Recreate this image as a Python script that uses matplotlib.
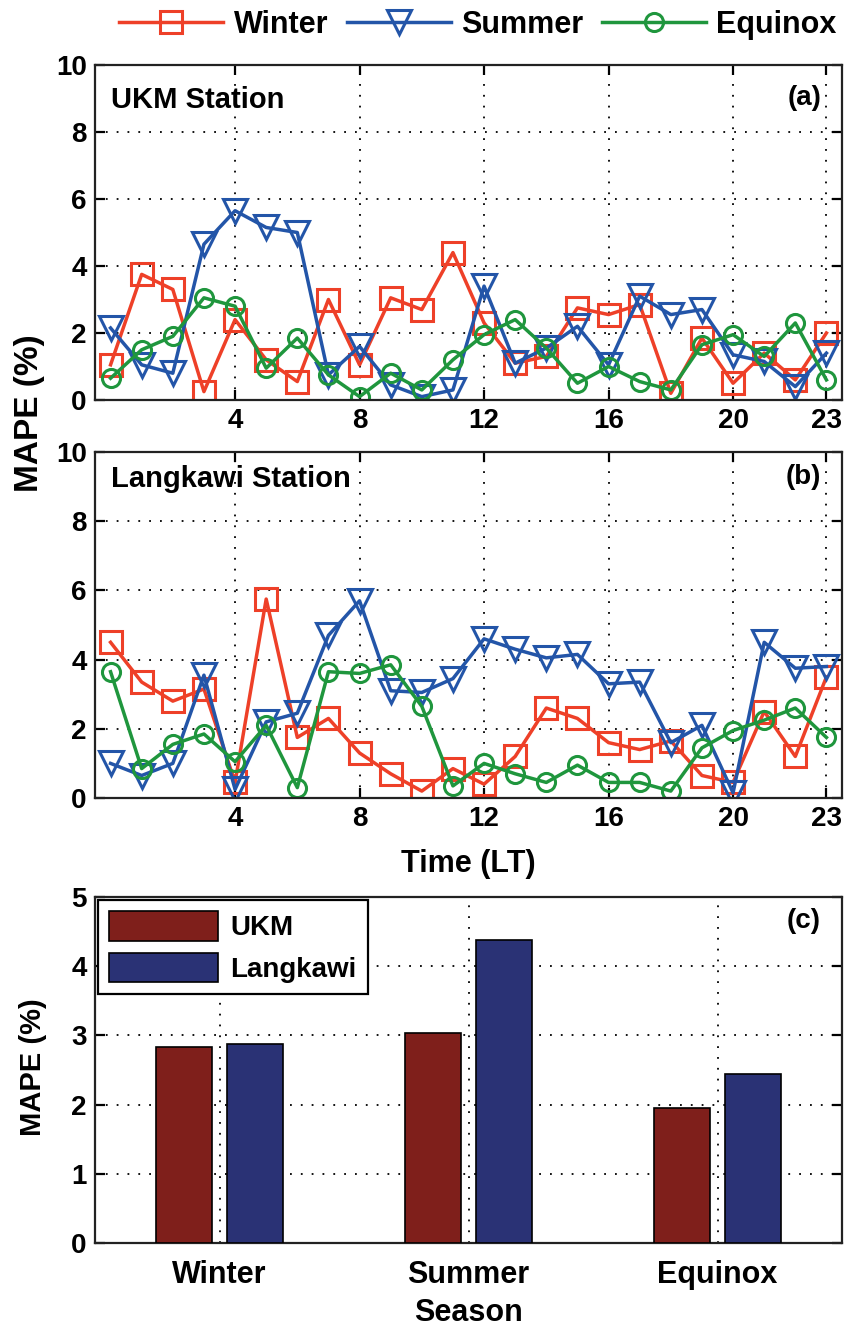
import matplotlib
matplotlib.use("Agg")
import matplotlib.pyplot as plt
from matplotlib import font_manager
import numpy as np

# ---------------- data ----------------
hours = list(range(24))
xticks_time = [4, 8, 12, 16, 20, 23]

ukm_winter = [1.05, 3.75, 3.3, 0.25, 2.4, 1.2, 0.55, 3.0, 1.05, 3.05, 2.7, 4.4,
              2.3, 1.1, 1.3, 2.75, 2.55, 2.85, 0.2, 1.85, 0.5, 1.4, 0.6, 2.0]
ukm_summer = [2.15, 1.05, 0.8, 4.65, 5.65, 5.15, 5.0, 0.75, 1.6, 0.45, 0.1, 0.3,
              3.4, 1.1, 1.55, 2.2, 1.05, 3.1, 2.55, 2.7, 1.35, 1.15, 0.4, 1.4]
ukm_equinox = [0.65, 1.5, 1.9, 3.05, 2.8, 0.95, 1.85, 0.75, 0.1, 0.8, 0.3, 1.2,
               1.95, 2.4, 1.55, 0.5, 1.0, 0.55, 0.3, 1.65, 1.95, 1.3, 2.3, 0.6]

lgk_winter = [4.5, 3.35, 2.8, 3.15, 0.45, 5.75, 1.75, 2.3, 1.3, 0.7, 0.2, 0.85,
              0.4, 1.2, 2.6, 2.3, 1.6, 1.4, 1.65, 0.65, 0.45, 2.5, 1.2, 3.5]
lgk_summer = [1.0, 0.65, 1.0, 3.55, 0.25, 2.2, 2.45, 4.7, 5.7, 3.1, 3.05, 3.45,
              4.6, 4.3, 4.05, 4.15, 3.3, 3.35, 1.6, 2.1, 0.15, 4.5, 3.75, 3.8]
lgk_equinox = [3.65, 0.85, 1.55, 1.85, 1.05, 2.1, 0.3, 3.65, 3.6, 3.85, 2.65, 0.35,
               1.0, 0.7, 0.45, 0.95, 0.45, 0.45, 0.2, 1.45, 1.95, 2.25, 2.6, 1.75]

seasons = ["Winter", "Summer", "Equinox"]
bar_ukm = [2.83, 3.04, 1.95]
bar_lgk = [2.87, 4.38, 2.44]

# ---------------- fonts ----------------
names = {f.name for f in font_manager.fontManager.ttflist}
NARROW = "Liberation Sans Narrow" if "Liberation Sans Narrow" in names else "Liberation Sans"
WIDE = "Liberation Sans"

C_WIN = "#EE4028"
C_SUM = "#2355A8"
C_EQU = "#1F963D"
C_UKM = "#7F1F1B"
C_LGK = "#2A3275"

W, H = 844, 1326
fig = plt.figure(figsize=(W / 100, H / 100), dpi=100)

def fx(px):
    return px / W

def fy(py):
    return 1 - py / H

L, R = 95, 842
pos_a = [fx(L), fy(400), fx(R - L), (400 - 65) / H]
pos_b = [fx(L), fy(798), fx(R - L), (798 - 452) / H]
pos_c = [fx(L), fy(1243), fx(R - L), (1243 - 897) / H]

GRID = dict(color="black", linestyle=(0, (1, 5)), linewidth=1.3)


def style_axes(ax):
    for s in ax.spines.values():
        s.set_linewidth(1.6)
        s.set_color("#222222")
    ax.tick_params(direction="in", length=7, width=1.6, top=True, right=True,
                   pad=6)
    for lab in ax.get_xticklabels() + ax.get_yticklabels():
        lab.set_fontfamily(NARROW)
        lab.set_fontweight("bold")
        lab.set_fontsize(20)


series_style = [
    ("Winter", C_WIN, "s", 16),
    ("Summer", C_SUM, "v", 17),
    ("Equinox", C_EQU, "o", 13),
]


def line_panel(ax, data, title, tag, ty):
    handles = []
    for (name, col, mk, ms), vals in zip(series_style, data):
        h, = ax.plot(hours, vals, color=col, linewidth=2.5, marker=mk,
                     markersize=ms, markerfacecolor="none",
                     markeredgecolor=col, markeredgewidth=2.2, label=name)
        handles.append(h)
    ax.set_xlim(-0.5, 23.5)
    ax.set_ylim(0, 10)
    ax.set_xticks(xticks_time)
    ax.set_yticks([0, 2, 4, 6, 8, 10])
    ax.grid(True, **GRID)
    ax.set_axisbelow(True)
    style_axes(ax)
    ax.text(0.022, ty, title, transform=ax.transAxes, ha="left", va="center",
            family=WIDE, weight="bold", size=21)
    ax.text(0.972, ty + 0.005, tag, transform=ax.transAxes, ha="right", va="center",
            family=NARROW, weight="bold", size=20)
    return handles


ax_a = fig.add_axes(pos_a)
handles = line_panel(ax_a, [ukm_winter, ukm_summer, ukm_equinox], "UKM Station", "(a)", 0.897)
ax_b = fig.add_axes(pos_b)
line_panel(ax_b, [lgk_winter, lgk_summer, lgk_equinox], "Langkawi Station", "(b)", 0.922)
ax_b.set_xlabel("Time (LT)", family=NARROW, weight="bold", size=22, labelpad=12)

fig.text(fx(30), fy(413), "MAPE (%)", rotation=90, ha="center", va="center",
         family=WIDE, weight="bold", size=24)

fig.legend(handles=handles, loc="center", bbox_to_anchor=(fx(478), fy(25)),
           ncol=3, frameon=False, handlelength=3.4, handletextpad=0.35,
           columnspacing=0.6, prop=dict(family=NARROW, weight="bold", size=22))

# ---------------- bar panel ----------------
ax_c = fig.add_axes(pos_c)
xc = np.arange(1, len(seasons) + 1)
bw = 0.225
off = 0.141
ax_c.bar(xc - off, bar_ukm, bw, color=C_UKM, edgecolor="black", linewidth=1.2,
         label="UKM", zorder=3)
ax_c.bar(xc + off, bar_lgk, bw, color=C_LGK, edgecolor="black", linewidth=1.2,
         label="Langkawi", zorder=3)
ax_c.set_xlim(0.5, 3.5)
ax_c.set_ylim(0, 5)
ax_c.set_xticks(xc)
ax_c.set_xticklabels(seasons)
ax_c.set_yticks([0, 1, 2, 3, 4, 5])
ax_c.grid(True, **GRID)
ax_c.set_axisbelow(True)
style_axes(ax_c)
ax_c.tick_params(axis="x", length=0, pad=12)
for lab in ax_c.get_xticklabels():
    lab.set_fontsize(22)
ax_c.set_xlabel("Season", family=NARROW, weight="bold", size=22, labelpad=6)
fig.text(fx(33), fy(1067), "MAPE (%)", rotation=90, ha="center", va="center",
         family=WIDE, weight="bold", size=21)
ax_c.text(0.972, 0.93, "(c)", transform=ax_c.transAxes, ha="right", va="center",
          family=NARROW, weight="bold", size=20)
leg = ax_c.legend(loc="upper left", bbox_to_anchor=(0.0, 1.0), borderaxespad=0.12,
                  handlelength=3.9, handleheight=1.25, handletextpad=0.45,
                  labelspacing=0.4, borderpad=0.4, fancybox=False,
                  prop=dict(family=WIDE, weight="bold", size=20))
leg.get_frame().set_edgecolor("black")
leg.get_frame().set_linewidth(1.6)
leg.get_frame().set_alpha(1)

fig.savefig("out.png", dpi=100)
